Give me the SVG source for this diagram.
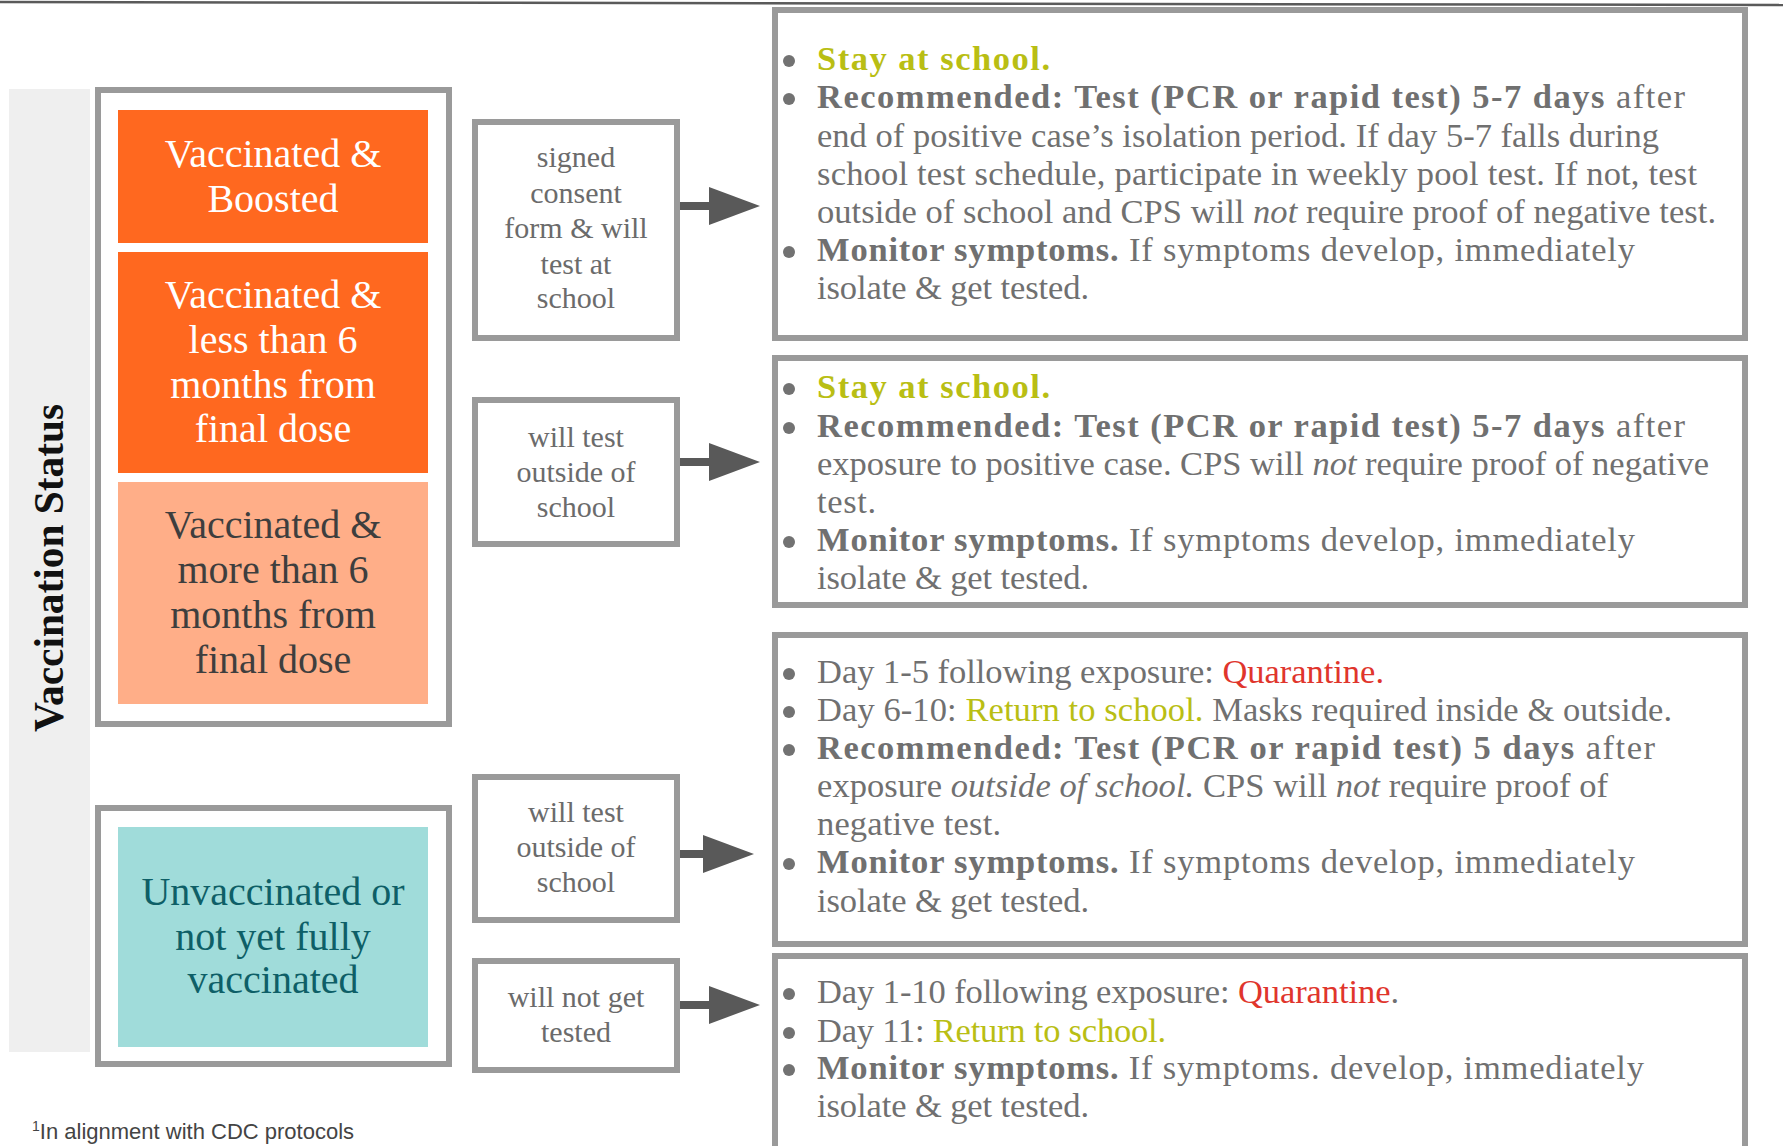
<svg xmlns="http://www.w3.org/2000/svg" width="1783" height="1146" viewBox="0 0 1783 1146">
<style>
.box{fill:#fff;stroke:#9a9a9a;stroke-width:6}
.lt{font-family:"Liberation Serif",serif;font-size:40px;text-anchor:middle}
.mt{font-family:"Liberation Serif",serif;font-size:30px;text-anchor:middle;fill:#6b6b6b}
.rt{font-family:"Liberation Serif",serif;font-size:34.5px;fill:#707070}
.b{font-weight:bold}
.i{font-style:italic}
.ol{fill:#b9be14}
.rd{fill:#e0352c}
.bul{fill:#727272}
.conn{stroke:#595959;stroke-width:8;fill:none}
</style>
<defs>
<marker id="ah" markerUnits="userSpaceOnUse" markerWidth="52" markerHeight="38" refX="0" refY="19" orient="auto">
<path d="M0,0 L51,19 L0,38 Z" fill="#595959"/>
</marker>
</defs>
<rect width="1783" height="1146" fill="#fff"/>
<line x1="0" y1="2" x2="1783" y2="5" stroke="#5a5a5a" stroke-width="2.5"/>

<g id="vaccination-status">
<rect x="9" y="89" width="81" height="963" fill="#efefef"/>
<text transform="translate(63,568) rotate(-90)" font-family="'Liberation Serif',serif" font-weight="bold" font-size="42" text-anchor="middle" fill="#111" textLength="328" lengthAdjust="spacingAndGlyphs">Vaccination Status</text>
</g>

<g id="vaccinated-group">
<rect class="box" x="98" y="90" width="351" height="634"/>
<g id="vaccinated-boosted">
<rect x="118" y="110" width="310" height="133" fill="#ff681f"/>
<text class="lt" fill="#fff"><tspan x="273" y="167">Vaccinated &amp;</tspan><tspan x="273" y="212">Boosted</tspan></text>
</g>
<g id="vaccinated-less-6">
<rect x="118" y="252" width="310" height="221" fill="#ff681f"/>
<text class="lt" fill="#fff"><tspan x="273" y="308">Vaccinated &amp;</tspan><tspan x="273" y="353">less than 6</tspan><tspan x="273" y="398">months from</tspan><tspan x="273" y="442">final dose</tspan></text>
</g>
<g id="vaccinated-more-6">
<rect x="118" y="482" width="310" height="222" fill="#ffae88"/>
<text class="lt" fill="#3e3e3e"><tspan x="273" y="538">Vaccinated &amp;</tspan><tspan x="273" y="583">more than 6</tspan><tspan x="273" y="628">months from</tspan><tspan x="273" y="673">final dose</tspan></text>
</g>
</g>

<g id="unvaccinated-group">
<rect class="box" x="98" y="808" width="351" height="256"/>
<g id="unvaccinated">
<rect x="118" y="827" width="310" height="220" fill="#a0dcda"/>
<text class="lt" fill="#0e5f67"><tspan x="273" y="905">Unvaccinated or</tspan><tspan x="273" y="950">not yet fully</tspan><tspan x="273" y="993">vaccinated</tspan></text>
</g>
</g>

<g id="m1">
<rect class="box" x="475" y="122" width="202" height="216"/>
<text class="mt"><tspan x="576" y="167">signed</tspan><tspan x="576" y="203">consent</tspan><tspan x="576" y="238">form &amp; will</tspan><tspan x="576" y="274">test at</tspan><tspan x="576" y="308">school</tspan></text>
</g>
<g id="m2">
<rect class="box" x="475" y="400" width="202" height="144"/>
<text class="mt"><tspan x="576" y="447">will test</tspan><tspan x="576" y="482">outside of</tspan><tspan x="576" y="517">school</tspan></text>
</g>
<g id="m3">
<rect class="box" x="475" y="777" width="202" height="143"/>
<text class="mt"><tspan x="576" y="822">will test</tspan><tspan x="576" y="857">outside of</tspan><tspan x="576" y="892">school</tspan></text>
</g>
<g id="m4">
<rect class="box" x="475" y="961" width="202" height="109"/>
<text class="mt"><tspan x="576" y="1007">will not get</tspan><tspan x="576" y="1042">tested</tspan></text>
</g>

<g id="connectors">
<line class="conn" x1="680" y1="206" x2="709" y2="206" marker-end="url(#ah)"/>
<line class="conn" x1="680" y1="462" x2="709" y2="462" marker-end="url(#ah)"/>
<line class="conn" x1="680" y1="854" x2="703" y2="854" marker-end="url(#ah)"/>
<line class="conn" x1="680" y1="1005" x2="709" y2="1005" marker-end="url(#ah)"/>
</g>

<g id="r1">
<rect class="box" x="775" y="10" width="970" height="328"/>
<circle class="bul" cx="789" cy="61" r="6"/>
<circle class="bul" cx="789" cy="99" r="6"/>
<circle class="bul" cx="789" cy="252" r="6"/>
<text class="rt" x="817" y="70" textLength="233" lengthAdjust="spacing"><tspan class="b ol">Stay at school.</tspan></text>
<text class="rt" x="817" y="108" textLength="868" lengthAdjust="spacing"><tspan class="b">Recommended: Test (PCR or rapid test) 5-7 days</tspan> after</text>
<text class="rt" x="817" y="147" textLength="842" lengthAdjust="spacing">end of positive case’s isolation period. If day 5-7 falls during</text>
<text class="rt" x="817" y="185" textLength="880" lengthAdjust="spacing">school test schedule, participate in weekly pool test. If not, test</text>
<text class="rt" x="817" y="223" textLength="899" lengthAdjust="spacing">outside of school and CPS will <tspan class="i">not</tspan> require proof of negative test.</text>
<text class="rt" x="817" y="261" textLength="818" lengthAdjust="spacing"><tspan class="b">Monitor symptoms.</tspan> If symptoms develop, immediately</text>
<text class="rt" x="817" y="299" textLength="272" lengthAdjust="spacing">isolate &amp; get tested.</text>
</g>

<g id="r2">
<rect class="box" x="775" y="358" width="970" height="247"/>
<circle class="bul" cx="789" cy="389" r="6"/>
<circle class="bul" cx="789" cy="428" r="6"/>
<circle class="bul" cx="789" cy="542" r="6"/>
<text class="rt" x="817" y="398" textLength="233" lengthAdjust="spacing"><tspan class="b ol">Stay at school.</tspan></text>
<text class="rt" x="817" y="437" textLength="868" lengthAdjust="spacing"><tspan class="b">Recommended: Test (PCR or rapid test) 5-7 days</tspan> after</text>
<text class="rt" x="817" y="475" textLength="892" lengthAdjust="spacing">exposure to positive case. CPS will <tspan class="i">not</tspan> require proof of negative</text>
<text class="rt" x="817" y="513" textLength="59" lengthAdjust="spacing">test.</text>
<text class="rt" x="817" y="551" textLength="818" lengthAdjust="spacing"><tspan class="b">Monitor symptoms.</tspan> If symptoms develop, immediately</text>
<text class="rt" x="817" y="589" textLength="272" lengthAdjust="spacing">isolate &amp; get tested.</text>
</g>

<g id="r3">
<rect class="box" x="775" y="635" width="970" height="309"/>
<circle class="bul" cx="789" cy="674" r="6"/>
<circle class="bul" cx="789" cy="712" r="6"/>
<circle class="bul" cx="789" cy="750" r="6"/>
<circle class="bul" cx="789" cy="864" r="6"/>
<text class="rt" x="817" y="683" textLength="567" lengthAdjust="spacing">Day 1-5 following exposure: <tspan class="rd">Quarantine.</tspan></text>
<text class="rt" x="817" y="721" textLength="855" lengthAdjust="spacing">Day 6-10: <tspan class="ol">Return to school.</tspan> Masks required inside &amp; outside.</text>
<text class="rt" x="817" y="759" textLength="838" lengthAdjust="spacing"><tspan class="b">Recommended: Test (PCR or rapid test) 5 days</tspan> after</text>
<text class="rt" x="817" y="797" textLength="791" lengthAdjust="spacing">exposure <tspan class="i">outside of school.</tspan> CPS will <tspan class="i">not</tspan> require proof of</text>
<text class="rt" x="817" y="835" textLength="184" lengthAdjust="spacing">negative test.</text>
<text class="rt" x="817" y="873" textLength="818" lengthAdjust="spacing"><tspan class="b">Monitor symptoms.</tspan> If symptoms develop, immediately</text>
<text class="rt" x="817" y="912" textLength="272" lengthAdjust="spacing">isolate &amp; get tested.</text>
</g>

<g id="r4">
<rect class="box" x="775" y="956" width="970" height="210"/>
<circle class="bul" cx="789" cy="994" r="6"/>
<circle class="bul" cx="789" cy="1033" r="6"/>
<circle class="bul" cx="789" cy="1070" r="6"/>
<text class="rt" x="817" y="1003" textLength="582" lengthAdjust="spacing">Day 1-10 following exposure: <tspan class="rd">Quarantine</tspan>.</text>
<text class="rt" x="817" y="1042" textLength="349" lengthAdjust="spacing">Day 11: <tspan class="ol">Return to school.</tspan></text>
<text class="rt" x="817" y="1079" textLength="827" lengthAdjust="spacing"><tspan class="b">Monitor symptoms.</tspan> If symptoms. develop, immediately</text>
<text class="rt" x="817" y="1117" textLength="272" lengthAdjust="spacing">isolate &amp; get tested.</text>
</g>

<text x="32" y="1139" font-family="'Liberation Sans',sans-serif" font-size="22" fill="#444"><tspan font-size="14" dy="-8">1</tspan><tspan dy="8">In alignment with CDC protocols</tspan></text>
</svg>
